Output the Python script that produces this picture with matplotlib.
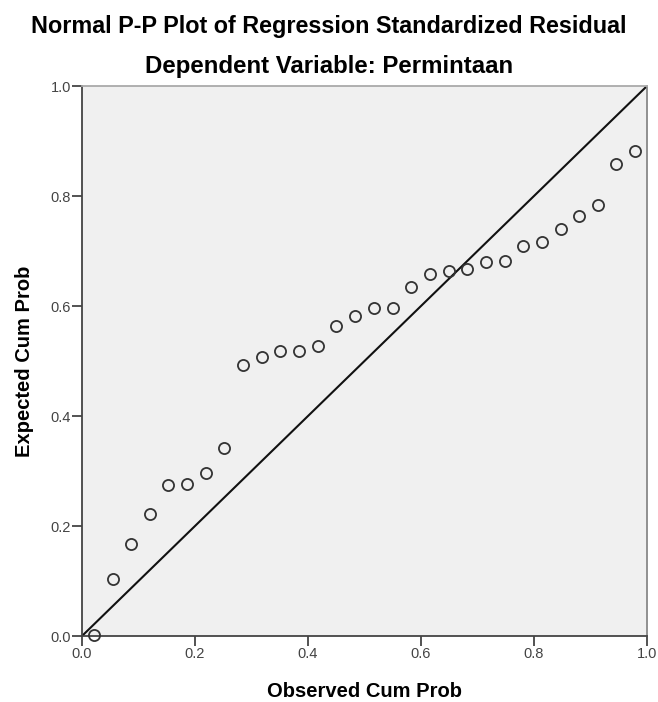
import matplotlib
matplotlib.use("Agg")
import matplotlib.pyplot as plt

observed = [0.021, 0.054, 0.087, 0.120, 0.153, 0.186, 0.219, 0.252, 0.285, 0.318,
            0.351, 0.384, 0.417, 0.450, 0.483, 0.517, 0.550, 0.583, 0.616, 0.649,
            0.682, 0.715, 0.748, 0.781, 0.814, 0.847, 0.880, 0.913, 0.946, 0.979]
expected = [0.002, 0.103, 0.167, 0.222, 0.274, 0.276, 0.296, 0.341, 0.493, 0.508,
            0.519, 0.518, 0.528, 0.564, 0.582, 0.596, 0.596, 0.634, 0.658, 0.664,
            0.668, 0.680, 0.681, 0.710, 0.716, 0.740, 0.764, 0.784, 0.858, 0.882]
ticks = [0.0, 0.2, 0.4, 0.6, 0.8, 1.0]
tick_labels = ["0.0", "0.2", "0.4", "0.6", "0.8", "1.0"]

plt.rcParams['font.family'] = ['Liberation Sans', 'DejaVu Sans']

fig = plt.figure(figsize=(6.58, 7.02), dpi=100)
ax = fig.add_axes([82/658, 66/702, 565/658, 550/702])
ax.set_facecolor('#f0f0f0')

ax.plot([0, 1], [0, 1], color='#111111', lw=1.5, zorder=2)
ax.plot(observed, expected, linestyle='none', marker='o', markersize=8,
        markerfacecolor='none', markeredgecolor='#333333', markeredgewidth=1.3,
        zorder=3, clip_on=False)

ax.set_xlim(0, 1)
ax.set_ylim(0, 1)
ax.set_xticks(ticks)
ax.set_xticklabels(tick_labels)
ax.set_yticks(ticks)
ax.set_yticklabels(tick_labels)
ax.tick_params(direction='out', length=7, width=1.3, color='#444444',
               labelsize=10.5, labelcolor='#444444', pad=1)
for s in ax.spines.values():
    s.set_color('#444444')
    s.set_linewidth(1.3)
ax.spines['top'].set_color('#aaaaaa')
ax.spines['right'].set_color('#888888')

ax.set_xlabel('Observed Cum Prob', fontsize=14.5, fontweight='bold', labelpad=15)
ax.set_ylabel('Expected Cum Prob', fontsize=14.5, fontweight='bold', labelpad=12)

fig.text(0.5, 1 - 27/702, 'Normal P-P Plot of Regression Standardized Residual',
         ha='center', va='center', fontsize=16.8, fontweight='bold')
fig.text(0.5, 1 - 67/702, 'Dependent Variable: Permintaan',
         ha='center', va='center', fontsize=17.3, fontweight='bold')

fig.savefig('out.png', dpi=100, facecolor='white')
